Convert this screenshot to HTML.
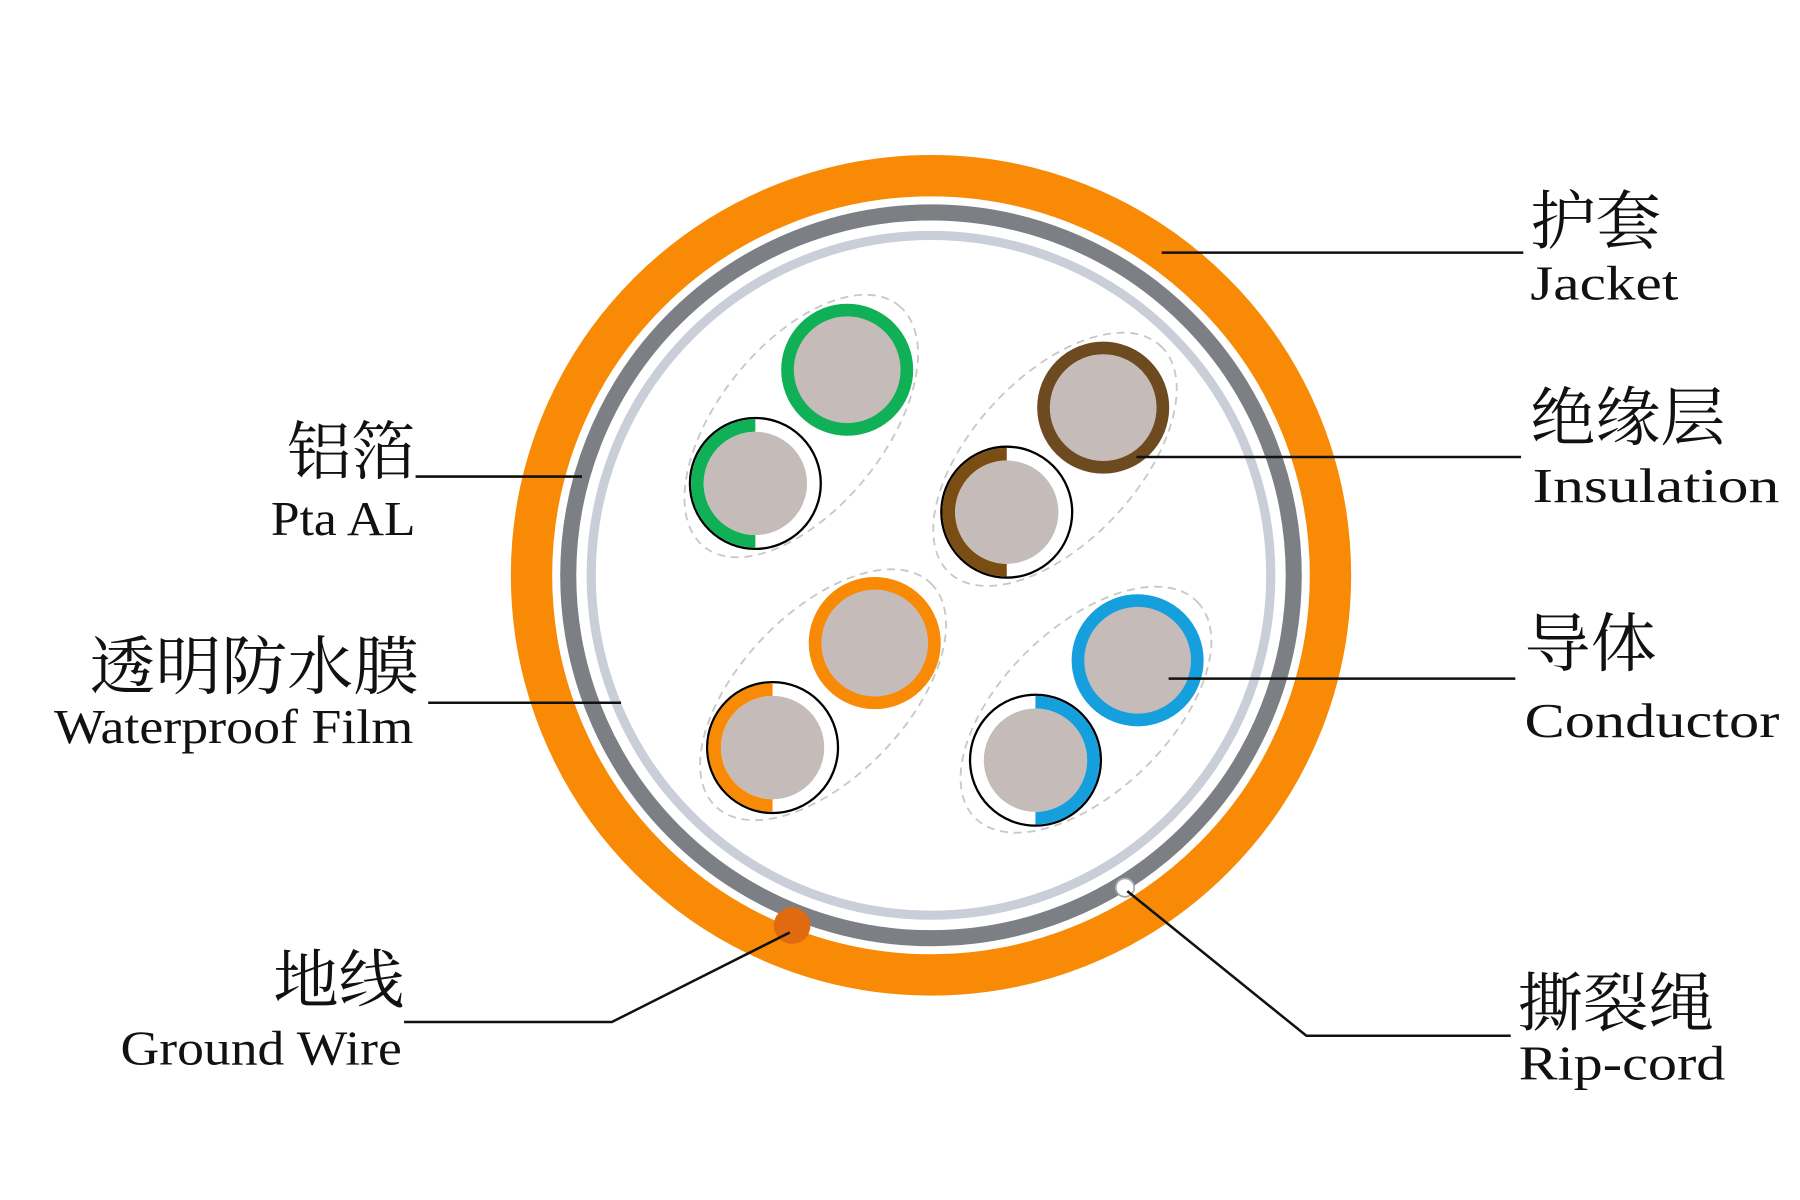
<!DOCTYPE html>
<html><head><meta charset="utf-8"><style>
html,body{margin:0;padding:0;background:#fff;}
svg{display:block;}
text{font-family:"Liberation Serif","Noto Serif CJK SC",serif;fill:#111;}
.cn{font-size:56px;}
.en{font-size:42px;}
</style></head><body>
<svg width="1800" height="1200" viewBox="0 0 1568 1045" preserveAspectRatio="none" xmlns="http://www.w3.org/2000/svg">
<rect width="1568" height="1045" fill="#fff"/>
<circle cx="811" cy="501" r="348" fill="#fff" stroke="#f98a05" stroke-width="36"/>
<circle cx="811" cy="501" r="316" fill="none" stroke="#7c7f83" stroke-width="14"/>
<circle cx="811" cy="501" r="296" fill="none" stroke="#c9ced9" stroke-width="8"/>
<g fill="none" stroke="#c8c8c8" stroke-width="1.6" stroke-dasharray="7 5">
<ellipse cx="698" cy="371" rx="135" ry="72" transform="rotate(-51 698 371)"/>
<ellipse cx="919" cy="400" rx="135" ry="72" transform="rotate(-47 919 400)"/>
<ellipse cx="717" cy="605" rx="135" ry="72" transform="rotate(-46 717 605)"/>
<ellipse cx="946" cy="618" rx="135" ry="72" transform="rotate(-44 946 618)"/>
</g>
<g>
<circle cx="738" cy="322" r="52" fill="#c5bbb8" stroke="#0fb056" stroke-width="11"/>
<circle cx="961" cy="355" r="52" fill="#c5bbb8" stroke="#6e4a20" stroke-width="11"/>
<circle cx="762" cy="560" r="52" fill="#c5bbb8" stroke="#f98a05" stroke-width="11"/>
<circle cx="991" cy="575" r="52" fill="#c5bbb8" stroke="#159fdc" stroke-width="11"/>
</g>
<g>
<circle cx="658" cy="421" r="57" fill="#fff" stroke="#000" stroke-width="2"/>
<path d="M658 365 A56 56 0 0 0 658 477 L658 466 A45 45 0 0 1 658 376 Z" fill="#0fb056"/>
<circle cx="658" cy="421" r="45" fill="#c5bbb8"/>
<circle cx="877" cy="446" r="57" fill="#fff" stroke="#000" stroke-width="2"/>
<path d="M877 390 A56 56 0 0 0 877 502 L877 491 A45 45 0 0 1 877 401 Z" fill="#7a4e12"/>
<circle cx="877" cy="446" r="45" fill="#c5bbb8"/>
<circle cx="673" cy="651" r="57" fill="#fff" stroke="#000" stroke-width="2"/>
<path d="M673 595 A56 56 0 0 0 673 707 L673 696 A45 45 0 0 1 673 606 Z" fill="#f98a05"/>
<circle cx="673" cy="651" r="45" fill="#c5bbb8"/>
<circle cx="902" cy="662" r="57" fill="#fff" stroke="#000" stroke-width="2"/>
<path d="M902 606 A56 56 0 0 1 902 718 L902 707 A45 45 0 0 0 902 617 Z" fill="#159fdc"/>
<circle cx="902" cy="662" r="45" fill="#c5bbb8"/>
</g>
<circle cx="690" cy="806" r="16" fill="#e06a10"/>
<circle cx="980" cy="773" r="8" fill="#fff" stroke="#aaa" stroke-width="1.5"/>
<g stroke="#111" stroke-width="2.2" fill="none">
<line x1="1012" y1="220" x2="1327" y2="220"/>
<line x1="990" y1="398" x2="1325" y2="398"/>
<line x1="1018" y1="591" x2="1320" y2="591"/>
<polyline points="982,776 1138,902 1316,902"/>
<line x1="362" y1="415" x2="507" y2="415"/>
<line x1="373" y1="612" x2="541" y2="612"/>
<polyline points="352,890 533,890 688,812"/>
</g>
<g lengthAdjust="spacingAndGlyphs">
<text class="cn" x="1333" y="212" textLength="114" lengthAdjust="spacingAndGlyphs">护套</text>
<text class="en" x="1333" y="261" textLength="129" lengthAdjust="spacingAndGlyphs">Jacket</text>
<text class="cn" x="1333" y="383" textLength="170" lengthAdjust="spacingAndGlyphs">绝缘层</text>
<text class="en" x="1335" y="437" textLength="215" lengthAdjust="spacingAndGlyphs">Insulation</text>
<text class="cn" x="1328" y="580" textLength="115" lengthAdjust="spacingAndGlyphs">导体</text>
<text class="en" x="1328" y="642" textLength="222" lengthAdjust="spacingAndGlyphs">Conductor</text>
<text class="cn" x="1322" y="893" textLength="171" lengthAdjust="spacingAndGlyphs">撕裂绳</text>
<text class="en" x="1323" y="940" textLength="180" lengthAdjust="spacingAndGlyphs">Rip-cord</text>
<text class="cn" x="250" y="413" textLength="112" lengthAdjust="spacingAndGlyphs">铝箔</text>
<text class="en" x="236" y="466" textLength="126" lengthAdjust="spacingAndGlyphs">Pta AL</text>
<text class="cn" x="78" y="600" textLength="287" lengthAdjust="spacingAndGlyphs">透明防水膜</text>
<text class="en" x="47" y="647" textLength="313" lengthAdjust="spacingAndGlyphs">Waterproof Film</text>
<text class="cn" x="238" y="873" textLength="114" lengthAdjust="spacingAndGlyphs">地线</text>
<text class="en" x="105" y="927" textLength="245" lengthAdjust="spacingAndGlyphs">Ground Wire</text>
</g>
</svg>
</body></html>
